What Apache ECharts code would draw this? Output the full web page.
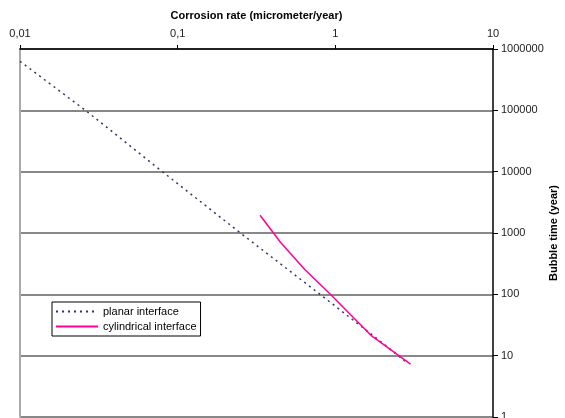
<!DOCTYPE html>
<html>
<head>
<meta charset="utf-8">
<script src="https://cdn.jsdelivr.net/npm/echarts@6/dist/echarts.min.js"></script>
<style>
  html, body { margin: 0; padding: 0; background: #fff; }
  #main { width: 565px; height: 418px; }
</style>
</head>
<body>
<div id="main"></div>
<script>
// values (x: corrosion rate, y: bubble time)
var planarRate = [0.01, 0.026, 0.08, 0.25, 0.8, 1.6, 2.85];
var planarTime = [630000, 100000, 10000, 1000, 100, 25, 7.7];
var cylRate = [0.333, 0.45, 0.64, 0.93, 1.7, 3.0];
var cylTime = [1950, 700, 254, 100, 21, 7.3];

var xTicks = ['0,01', '0,1', '1', '10'];

function pairs(xs, ys) {
    var out = [];
    for (var i = 0; i < xs.length; i++) out.push([xs[i], ys[i]]);
    return out;
}

var font = 'Liberation Sans, Arial, sans-serif';

var option = {
    animation: false,
    backgroundColor: '#fff',
    grid: { left: 20, right: 72, top: 49, bottom: 1, outerBoundsMode: 'none' },
    legend: {
        orient: 'vertical',
        left: 52, top: 302,
        backgroundColor: '#fff',
        borderColor: '#000',
        borderWidth: 1,
        borderRadius: 0,
        padding: [4, 4, 4, 3],
        itemGap: 4,
        itemWidth: 42,
        itemHeight: 10,
        itemStyle: { opacity: 0 },
        textStyle: { fontFamily: font, fontSize: 11, color: '#000' },
        data: ['planar interface', 'cylindrical interface']
    },
    xAxis: {
        type: 'log',
        logBase: 10,
        min: 0.01,
        max: 10,
        position: 'top',
        name: 'Corrosion rate (micrometer/year)',
        nameLocation: 'middle',
        nameGap: 28,
        nameTextStyle: { fontFamily: font, fontSize: 11, fontWeight: 'bold', color: '#000' },
        axisLine: { lineStyle: { color: '#000', width: 1.5 } },
        axisTick: { length: 4, lineStyle: { color: '#000' } },
        minorTick: { show: false },
        splitLine: { show: false },
        axisLabel: {
            fontFamily: font, fontSize: 11, color: '#222', margin: 10,
            formatter: function (v) {
                var i = Math.round(Math.log10(v)) + 2;
                return xTicks[i] || '';
            }
        }
    },
    yAxis: [{
        type: 'log',
        logBase: 10,
        min: 1,
        max: 1000000,
        position: 'right',
        name: 'Bubble time (year)',
        nameLocation: 'middle',
        nameGap: 55,
        nameMoveOverlap: false,
        nameRotate: 90,
        nameTextStyle: { fontFamily: font, fontSize: 11, fontWeight: 'bold', color: '#000' },
        axisLine: { show: true, lineStyle: { color: '#000', width: 1.5 } },
        axisTick: { show: true, length: 5, lineStyle: { color: '#000' } },
        minorTick: { show: false },
        splitLine: { show: true, lineStyle: { color: '#888', width: 2 } },
        axisLabel: {
            fontFamily: font, fontSize: 11, color: '#222', margin: 8,
            formatter: function (v) { return String(Math.round(v)); }
        }
    }, {
        type: 'log',
        min: 1,
        max: 1000000,
        position: 'left',
        axisLine: { show: true, lineStyle: { color: '#aaa', width: 2 } },
        axisTick: { show: false },
        axisLabel: { show: false },
        splitLine: { show: false }
    }],
    series: [{
        name: 'planar interface',
        type: 'line',
        showSymbol: false,
        symbol: 'none',
        data: pairs(planarRate, planarTime),
        lineStyle: { color: '#333366', width: 1.5, type: [2, 4] },
        itemStyle: { color: '#333366' }
    }, {
        name: 'cylindrical interface',
        type: 'line',
        showSymbol: false,
        symbol: 'none',
        data: pairs(cylRate, cylTime),
        lineStyle: { color: '#ff0099', width: 1.5 },
        itemStyle: { color: '#ff0099' }
    }]
};

var myChart = echarts.init(document.getElementById('main'));
myChart.setOption(option);
</script>
</body>
</html>
